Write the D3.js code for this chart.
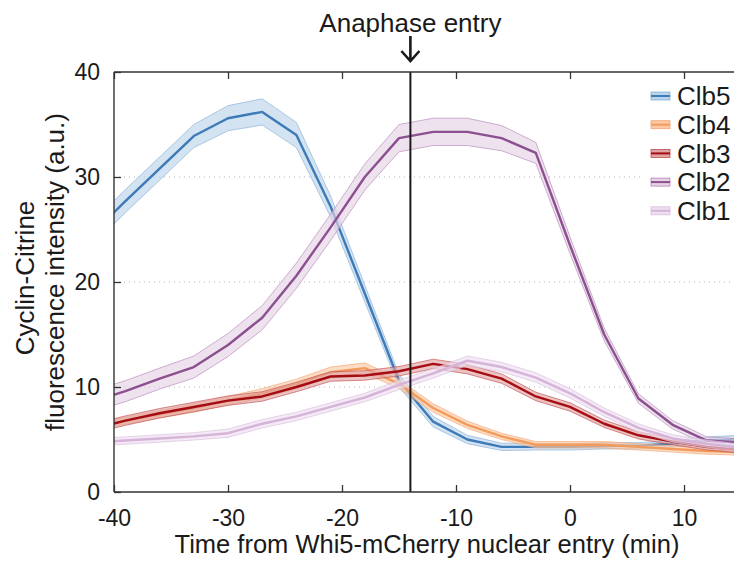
<!DOCTYPE html>
<html>
<head>
<meta charset="utf-8">
<script src="https://cdn.jsdelivr.net/npm/d3@7"></script>
<style>
  body { margin: 0; background: #fff; }
  svg { display: block; font-family: "Liberation Sans", Arial, sans-serif; }
</style>
</head>
<body>
<svg width="734" height="561"></svg>
<script>
// time points (min from Whi5 nuclear entry), 3 min sampling
const minutes = [-42, -39, -36, -33, -30, -27, -24, -21, -18, -15, -12, -9, -6, -3, 0, 3, 6, 9, 12, 15];

// mean intensities
const clb5 = [24.5, 27.7, 30.8, 33.9, 35.6, 36.2, 34.0, 27.2, 18.9, 10.6, 6.7, 5.0, 4.3, 4.3, 4.3, 4.4, 4.4, 4.6, 4.9, 5.0];
const clb4 = [6.1, 6.8, 7.4, 8.0, 8.7, 9.4, 10.3, 11.4, 11.8, 10.3, 8.0, 6.4, 5.3, 4.5, 4.5, 4.5, 4.3, 4.1, 3.9, 3.8];
const clb3 = [6.0, 6.8, 7.5, 8.1, 8.7, 9.1, 10.0, 11.0, 11.1, 11.5, 12.2, 11.7, 10.8, 9.1, 8.1, 6.5, 5.4, 4.8, 4.3, 4.0];
const clb2 = [8.6, 9.6, 10.8, 11.9, 14.0, 16.6, 20.6, 25.2, 30.0, 33.7, 34.3, 34.3, 33.7, 32.3, 23.5, 15.0, 8.9, 6.4, 4.9, 4.7];
const clb1 = [4.7, 4.9, 5.1, 5.3, 5.6, 6.5, 7.2, 8.1, 9.0, 10.2, 11.3, 12.5, 11.9, 10.9, 9.4, 7.6, 6.1, 5.1, 4.6, 4.2];

// half-width of the shaded error bands
const clb5Err = [1.1, 1.1, 1.1, 1.1, 1.2, 1.25, 1.2, 1.0, 0.8, 0.6, 0.5, 0.4, 0.35, 0.3, 0.3, 0.3, 0.3, 0.3, 0.35, 0.4];
const clb4Err = [0.35, 0.35, 0.35, 0.4, 0.4, 0.45, 0.45, 0.5, 0.5, 0.45, 0.4, 0.35, 0.3, 0.3, 0.3, 0.3, 0.3, 0.3, 0.3, 0.3];
const clb3Err = [0.45, 0.45, 0.45, 0.45, 0.45, 0.45, 0.45, 0.45, 0.45, 0.45, 0.45, 0.45, 0.45, 0.4, 0.4, 0.35, 0.35, 0.3, 0.3, 0.3];
const clb2Err = [1.0, 1.0, 1.0, 1.05, 1.1, 1.15, 1.2, 1.25, 1.25, 1.3, 1.3, 1.3, 1.2, 1.0, 0.8, 0.6, 0.45, 0.4, 0.35, 0.35];
const clb1Err = [0.35, 0.35, 0.35, 0.35, 0.4, 0.4, 0.4, 0.4, 0.4, 0.45, 0.45, 0.45, 0.45, 0.45, 0.45, 0.4, 0.4, 0.35, 0.35, 0.35];

const seriesNames = ["Clb5", "Clb4", "Clb3", "Clb2", "Clb1"];
const xTicks = [-40, -30, -20, -10, 0, 10];
const yTicks = [0, 10, 20, 30, 40];
const gridTicks = [10, 20, 30];
const anaphaseTime = -14;

const styles = {
  Clb5: { line: "#3d7ab8", band: "#bcd4ea", edge: "#86afd6" },
  Clb4: { line: "#f39b5b", band: "#fac8a4", edge: "#f3a674" },
  Clb3: { line: "#a50d12", band: "#e0a3a3", edge: "#c04f4f" },
  Clb2: { line: "#8c4f8f", band: "#e4d3e5", edge: "#b585b8" },
  Clb1: { line: "#d6b3d9", band: "#eddff0", edge: "#d9bcdc" }
};

const seriesData = [
  { name: "Clb5", values: clb5, err: clb5Err },
  { name: "Clb4", values: clb4, err: clb4Err },
  { name: "Clb3", values: clb3, err: clb3Err },
  { name: "Clb2", values: clb2, err: clb2Err },
  { name: "Clb1", values: clb1, err: clb1Err }
];

const svg = d3.select("svg");
const plotLeft = 114, plotTop = 72, plotBottom = 492, plotRight = 741;

const x = d3.scaleLinear().domain([-40, 15]).range([plotLeft, plotRight]);
const y = d3.scaleLinear().domain([0, 40]).range([plotBottom, plotTop]);

svg.append("defs").append("clipPath").attr("id", "plotclip")
  .append("rect").attr("x", plotLeft).attr("y", plotTop)
  .attr("width", 734 - plotLeft).attr("height", plotBottom - plotTop);

// dotted grid
svg.append("g").selectAll("line").data(gridTicks).enter().append("line")
  .attr("x1", plotLeft).attr("x2", 734)
  .attr("y1", d => y(d)).attr("y2", d => y(d))
  .attr("stroke", "#b5b5b5").attr("stroke-width", 1).attr("stroke-dasharray", "1,4");

const plot = svg.append("g").attr("clip-path", "url(#plotclip)");

seriesData.forEach(function (s) {
  let pts = minutes.map((t, i) => ({ t: t, v: s.values[i], e: s.err[i] }));
  let st = styles[s.name];
  let area = d3.area().x(d => x(d.t)).y0(d => y(d.v - d.e)).y1(d => y(d.v + d.e));
  let line = d3.line().x(d => x(d.t)).y(d => y(d.v));
  plot.append("path").datum(pts).attr("d", area)
    .attr("fill", st.band).attr("fill-opacity", 0.65)
    .attr("stroke", st.edge).attr("stroke-width", 0.8).attr("stroke-opacity", 0.8);
  plot.append("path").datum(pts).attr("d", line)
    .attr("fill", "none").attr("stroke", st.line).attr("stroke-width", 2.4)
    .attr("stroke-linejoin", "round");
});

// anaphase marker
svg.append("line")
  .attr("x1", x(anaphaseTime)).attr("x2", x(anaphaseTime))
  .attr("y1", plotTop).attr("y2", plotBottom)
  .attr("stroke", "#1a1a1a").attr("stroke-width", 2);

// axes (ticks inside, MATLAB style), plain hyphen for negatives
let gx = svg.append("g").attr("transform", "translate(0," + plotBottom + ")")
  .call(d3.axisBottom(x).tickValues(xTicks).tickFormat(d => String(d))
    .tickSizeInner(-7).tickSizeOuter(0).tickPadding(14));
let gxTop = svg.append("g").attr("transform", "translate(0," + plotTop + ")")
  .call(d3.axisTop(x).tickValues(xTicks).tickSizeInner(-7).tickSizeOuter(0).tickFormat(""));
let gy = svg.append("g").attr("transform", "translate(" + plotLeft + ",0)")
  .call(d3.axisLeft(y).tickValues(yTicks).tickFormat(d => String(d))
    .tickSizeInner(-7).tickSizeOuter(0).tickPadding(14));

[gx, gxTop, gy].forEach(g => {
  g.select(".domain").attr("stroke", "#333").attr("stroke-width", 1.4);
  g.selectAll(".tick line").attr("stroke", "#333").attr("stroke-width", 1.3);
  g.selectAll(".tick text").attr("fill", "#1a1a1a").style("font-size", "23px")
    .style("font-family", "'Liberation Sans', Arial, sans-serif");
});
gx.selectAll(".tick text").attr("dy", "0.85em");
gy.select(".domain").attr("d", "M0," + plotTop + "V" + plotBottom);
gx.select(".domain").attr("d", "M" + plotLeft + ",0H" + 734);
gxTop.select(".domain").attr("d", "M" + plotLeft + ",0H" + 734);

// axis titles
svg.append("text")
  .attr("x", 427).attr("y", 553)
  .attr("text-anchor", "middle").style("font-size", "25.5px").attr("fill", "#1a1a1a")
  .text("Time from Whi5-mCherry nuclear entry (min)");

svg.append("text")
  .attr("transform", "translate(25,278) rotate(-90)")
  .attr("dy", "0.35em")
  .attr("text-anchor", "middle").style("font-size", "26px").attr("fill", "#1a1a1a")
  .text("Cyclin-Citrine");
svg.append("text")
  .attr("transform", "translate(55,272) rotate(-90)")
  .attr("dy", "0.35em")
  .attr("text-anchor", "middle").style("font-size", "26px").attr("fill", "#1a1a1a")
  .text("fluorescence intensity (a.u.)");

// annotation
svg.append("text")
  .attr("x", x(anaphaseTime)).attr("y", 32)
  .attr("text-anchor", "middle").style("font-size", "26px").attr("fill", "#1a1a1a")
  .text("Anaphase entry");
svg.append("path")
  .attr("d", "M" + x(anaphaseTime) + ",36V60M" + (x(anaphaseTime) - 9) + ",51L" + x(anaphaseTime) + ",61L" + (x(anaphaseTime) + 9) + ",51")
  .attr("fill", "none").attr("stroke", "#1a1a1a").attr("stroke-width", 2.6);

// legend
let legend = svg.append("g");
legend.append("rect").attr("x", 644).attr("y", 79).attr("width", 90).attr("height", 146).attr("fill", "#fff");
seriesNames.forEach(function (name, i) {
  let cy = 96 + i * 28.7;
  let st = styles[name];
  legend.append("rect").attr("x", 651).attr("y", cy - 4).attr("width", 19).attr("height", 8)
    .attr("fill", st.band).attr("stroke", st.edge).attr("stroke-width", 0.8);
  legend.append("line").attr("x1", 651).attr("x2", 670).attr("y1", cy).attr("y2", cy)
    .attr("stroke", st.line).attr("stroke-width", 2);
  legend.append("text").attr("x", 677).attr("y", cy).attr("dy", "0.36em")
    .style("font-size", "26px").attr("fill", "#1a1a1a").text(name);
});
</script>
</body>
</html>
